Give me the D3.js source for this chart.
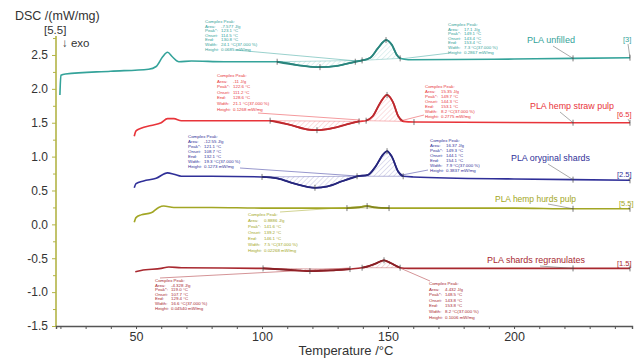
<!DOCTYPE html>
<html>
<head>
<meta charset="utf-8">
<script src="https://cdn.jsdelivr.net/npm/d3@7"></script>
<style>
  body { margin: 0; background: #fff; }
  svg { font-family: "Liberation Sans", Arial, sans-serif; }
</style>
</head>
<body>
<svg id="chart" width="636" height="358"></svg>
<script>
// curves: [temperature °C, DSC mW/mg]
const unfilled = [[19.8,1.91],[20.2,2.20],[22,2.22],[40,2.26],[55,2.29],[58,2.33],[60.5,2.47],[62.5,2.54],[64.5,2.47],[67,2.40],[72,2.41],[85,2.40],[106,2.40],[114,2.35],[123,2.32],[130,2.34],[137,2.40],[139.7,2.42],[143,2.46],[146,2.60],[149.2,2.72],[151.5,2.65],[153.5,2.50],[154.8,2.45],[158,2.43],[200,2.44],[223.4,2.45],[246,2.46]];
const strawPulp = [[49.3,1.30],[50,1.38],[52,1.42],[56,1.46],[60,1.50],[62.5,1.56],[65,1.56],[68,1.53],[85,1.53],[103.2,1.53],[112,1.46],[118,1.40],[121.8,1.39],[128,1.42],[134,1.48],[138.5,1.52],[141.3,1.53],[144,1.60],[147,1.80],[149.6,1.91],[152,1.80],[154,1.60],[156,1.52],[160.3,1.51],[223.4,1.50],[246,1.50]];
const shards = [[49.3,0.54],[50,0.60],[53,0.64],[58,0.68],[62.5,0.76],[65,0.74],[68,0.71],[80,0.71],[100,0.70],[106,0.68],[113,0.60],[121,0.54],[126,0.56],[132,0.64],[137.7,0.71],[142,0.73],[145,0.85],[148,1.03],[149.6,1.08],[151.5,1.00],[154,0.78],[156,0.71],[160,0.70],[200,0.67],[223.4,0.66],[246,0.65]];
const hurdsPulp = [[49.3,0.03],[50,0.10],[52,0.14],[56,0.17],[59,0.25],[61,0.27],[65,0.25],[80,0.25],[100,0.24],[133.7,0.24],[138,0.25],[141.7,0.27],[145,0.25],[150.4,0.24],[200,0.24],[223.4,0.23],[246,0.23]];
const regranulates = [[49.7,-0.70],[52,-0.68],[60,-0.65],[63,-0.63],[68,-0.64],[100.4,-0.65],[110,-0.67],[119,-0.69],[127,-0.68],[134.9,-0.66],[139.7,-0.64],[142,-0.62],[145,-0.58],[148.4,-0.53],[151,-0.57],[154.8,-0.64],[158,-0.65],[223.4,-0.65],[246,-0.65]];

const seriesNames = ["PLA unfilled", "PLA hemp straw pulp", "PLA oryginal shards", "PLA hemp hurds pulp", "PLA shards regranulates"];
const seriesOffsets = ["[3]", "[6.5]", "[2.5]", "[5.5]", "[1.5]"];
const seriesColors = ["#34a39a", "#e8343a", "#2f2f98", "#a2a624", "#a8282f"];

// integration windows [start, end] per series
const peakWindows = [
  [[106,139.7],[139.7,154.8]],
  [[103.2,138.5],[141.3,156]],
  [[100,137.7],[137.7,156]],
  [[133.7,150.4]],
  [[100.4,134.9],[139.7,154.8]]
];
// temperatures of the little marks on each curve
const markTemps = [
  [106,123,137,139.7,149.2,154.8,223.4],
  [103.2,121.8,138.5,141.3,149.6,160.3,223.4],
  [100,121,137.7,149.6,156,223.4],
  [133.7,141.7,150.4,223.4],
  [100.4,119,134.9,139.7,148.4,154.8,223.4]
];

const peakLabels = ["Area:", "Peak*:", "Onset:", "End:", "Width:", "Height:"];
const peakValues = [
  [["-7.577 J/g","123.1 °C","114.5 °C","130.8 °C","24.1 °C(37.000 %)","0.0685 mW/mg"],
   ["17.1 J/g","149.1 °C","143.4 °C","153.4 °C","7.3 °C(37.000 %)","0.2867 mW/mg"]],
  [["-11 J/g","122.6 °C","111.2 °C","128.6 °C","21.1 °C(37.000 %)","0.1268 mW/mg"],
   ["15.35 J/g","149.7 °C","144.3 °C","153.1 °C","8.2 °C(37.000 %)","0.2775 mW/mg"]],
  [["-12.55 J/g","121.1 °C","108.7 °C","132.1 °C","19.3 °C(37.000 %)","0.1273 mW/mg"],
   ["16.37 J/g","149.3 °C","144.1 °C","154.1 °C","7.9 °C(37.000 %)","0.3837 mW/mg"]],
  [["0.8886 J/g","141.6 °C","139.2 °C","146.1 °C","7.5 °C(37.000 %)","0.02268 mW/mg"]],
  [["-4.328 J/g","119.0 °C","107.7 °C","129.4 °C","16.6 °C(37.000 %)","0.04540 mW/mg"],
   ["4.432 J/g","148.5 °C","143.8 °C","153.8 °C","8.2 °C(37.000 %)","0.1006 mW/mg"]]
];

const yTicks = [-1.5, -1.0, -0.5, 0.0, 0.5, 1.0, 1.5, 2.0, 2.5];
const xTicks = [50, 100, 150, 200];

const seriesData = [unfilled, strawPulp, shards, hurdsPulp, regranulates];

const svg = d3.select("#chart");

const x = d3.scaleLinear().domain([18.25, 246.8]).range([56, 632]);
const y = d3.scaleLinear().domain([-1.5, 2.78]).range([326, 36]);

const line = d3.line()
  .x(d => x(d[0]))
  .y(d => y(d[1]))
  .curve(d3.curveMonotoneX);

// hatch patterns
const defs = svg.append("defs");
seriesColors.forEach((c, i) => {
  const p = defs.append("pattern")
    .attr("id", "hatch" + i)
    .attr("patternUnits", "userSpaceOnUse")
    .attr("width", 3.5).attr("height", 3.5)
    .attr("patternTransform", "rotate(45)");
  p.append("line")
    .attr("x1", 0).attr("y1", 0).attr("x2", 0).attr("y2", 3.5)
    .attr("stroke", c).attr("stroke-opacity", 0.5).attr("stroke-width", 0.6);
});

// y axis
const yAxis = svg.append("g")
  .attr("transform", "translate(56,0)")
  .call(d3.axisLeft(y).tickValues(yTicks).tickFormat(d => d.toFixed(1)).tickSize(4).tickPadding(4));
yAxis.select(".domain").remove();
yAxis.selectAll("line").attr("stroke", "#b3b446");
yAxis.selectAll("text").attr("font-size", 12).attr("fill", "#333");

svg.append("g")
  .attr("transform", "translate(56,0)")
  .call(d3.axisLeft(y).tickValues(d3.range(-1.25, 2.76, 0.5)).tickFormat("").tickSize(3))
  .call(g => g.select(".domain").remove())
  .selectAll("line").attr("stroke", "#b3b446");

svg.append("line")
  .attr("x1", 56).attr("x2", 56).attr("y1", 36).attr("y2", 326)
  .attr("stroke", "#b3b446").attr("stroke-width", 1.6);

// x axis
const xAxis = svg.append("g")
  .attr("transform", "translate(0,326)")
  .call(d3.axisBottom(x).tickValues(xTicks).tickFormat(d3.format("d")).tickSize(3).tickPadding(3));
xAxis.select(".domain").attr("stroke", "#555").attr("stroke-width", 1.4);
xAxis.selectAll("line").attr("stroke", "#555");
xAxis.selectAll("text").attr("font-size", 12.5).attr("fill", "#333");

svg.append("g")
  .attr("transform", "translate(0,326)")
  .call(d3.axisBottom(x).tickValues(d3.range(20, 241, 10).filter(d => d % 50)).tickFormat("").tickSize(3))
  .call(g => g.select(".domain").remove())
  .selectAll("line").attr("stroke", "#555");

// titles
svg.append("text").attr("x", 15).attr("y", 20).attr("font-size", 12.5).attr("fill", "#333").text("DSC /(mW/mg)");
svg.append("text").attr("x", 44).attr("y", 34).attr("font-size", 11.5).attr("fill", "#333").text("[5.5]");
svg.append("text").attr("x", 62).attr("y", 47).attr("font-size", 11.5).attr("fill", "#333").text("↓ exo");
svg.append("text").attr("x", 346).attr("y", 355).attr("font-size", 13).attr("fill", "#333")
  .attr("text-anchor", "middle").text("Temperature /°C");

// peak text blocks: [x, first baseline, line step]
const blockPos = [
  [[205,23,4.6],[448,26,4.6]],
  [[217,77,5.6],[425,88,5]],
  [[188,138,5],[430,142,5]],
  [[248,216,6]],
  [[155,282,4.6],[429,285,5.6]]
];
// leader lines from blocks to peaks
const blockLeaders = [
  [[235,50,357,61],[450,53,400,59]],
  [[258,113,360,120],[424,115,400,121]],
  [[240,168,357,176],[428,170,402,175]],
  [[280,212,367,206]],
  [[160,278,350,268],[430,281,400,268]]
];
// curve names [x, baseline, leader start x, leader start y, text width]
const namePos = [[527,43,553,46,48],[530,109,560,112,84],[511,161,548,164,79],[495,202,548,204,81],[487,263,540,266,98]];
const tagPos = [[623,42],[617,117],[617,177],[619,206],[617,266]];

seriesData.forEach((data, i) => {
  const col = seriesColors[i];
  const g = svg.append("g");

  peakWindows[i].forEach(w => {
    const seg = data.filter(d => d[0] >= w[0] && d[0] <= w[1]);
    g.append("path")
      .attr("d", line(seg) + "Z")
      .attr("fill", "url(#hatch" + i + ")")
      .attr("stroke", col).attr("stroke-width", 0.5).attr("stroke-opacity", 0.7);
  });

  g.append("path")
    .datum(data)
    .attr("d", line)
    .attr("fill", "none")
    .attr("stroke", col)
    .attr("stroke-width", 1.6);

  // darker stroke over peak parts
  peakWindows[i].forEach(w => {
    const seg = data.filter(d => d[0] >= w[0] && d[0] <= w[1]);
    g.append("path")
      .attr("d", line(seg))
      .attr("fill", "none")
      .attr("stroke", d3.color(col).darker(0.6))
      .attr("stroke-width", 1.8);
  });

  markTemps[i].forEach(t => {
    const p = data.find(d => d[0] === t);
    g.append("line")
      .attr("x1", x(t)).attr("x2", x(t))
      .attr("y1", y(p[1]) - 3).attr("y2", y(p[1]) + 3)
      .attr("stroke", "#444").attr("stroke-width", 0.7);
  });
  const last = data[data.length - 1];
  g.append("line")
    .attr("x1", x(last[0])).attr("x2", x(last[0]))
    .attr("y1", y(last[1]) - 3).attr("y2", y(last[1]) + 3)
    .attr("stroke", "#444").attr("stroke-width", 0.7);

  // value blocks
  peakValues[i].forEach((vals, k) => {
    const [bx, by, step] = blockPos[i][k];
    const tb = g.append("g").attr("fill", col).attr("font-size", 4.4);
    tb.append("text").attr("x", bx).attr("y", by).text("Complex Peak:");
    vals.forEach((v, j) => {
      tb.append("text").attr("x", bx).attr("y", by + step * (j + 1)).text(peakLabels[j]);
      tb.append("text").attr("x", bx + 16).attr("y", by + step * (j + 1)).text(v);
    });
    const l = blockLeaders[i][k];
    g.append("line")
      .attr("x1", l[0]).attr("y1", l[1]).attr("x2", l[2]).attr("y2", l[3])
      .attr("stroke", col).attr("stroke-width", 0.5);
  });

  // series name with leader to the mark at 223.4
  const np = namePos[i];
  g.append("text").attr("x", np[0]).attr("y", np[1]).attr("font-size", 9.5)
    .attr("textLength", np[4]).attr("lengthAdjust", "spacingAndGlyphs")
    .attr("fill", col).text(seriesNames[i]);
  const mk = data.find(d => d[0] === 223.4);
  g.append("line")
    .attr("x1", np[2]).attr("y1", np[3]).attr("x2", x(mk[0])).attr("y2", y(mk[1]))
    .attr("stroke", "#555").attr("stroke-width", 0.5);

  const tp = tagPos[i];
  g.append("text").attr("x", tp[0]).attr("y", tp[1]).attr("font-size", 7.5)
    .attr("fill", col).text(seriesOffsets[i]);
  g.append("line")
    .attr("x1", 628).attr("y1", tp[1] + 2).attr("x2", x(last[0])).attr("y2", y(last[1]))
    .attr("stroke", "#555").attr("stroke-width", 0.5);
});
</script>
</body>
</html>
